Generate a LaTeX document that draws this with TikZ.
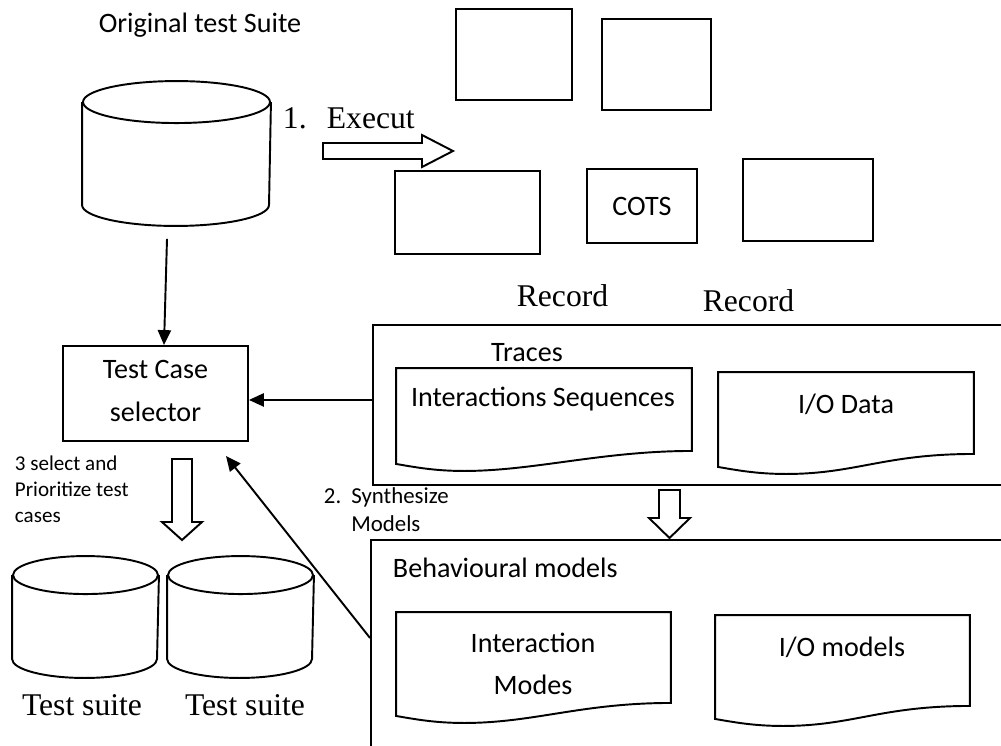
\documentclass[tikz,border=0pt]{standalone}
\usepackage{fontspec}
\setmainfont{Liberation Serif}
\newfontfamily\calibri{Carlito}
\usetikzlibrary{arrows.meta,calc}

% cylinder drawn round an empty node: name, x radius, y radius
\newcommand{\drawcan}[3]{%
  \draw ([yshift=-#3]#1.north west) -- ([yshift=#3]#1.south west)
    arc[start angle=180,end angle=360,x radius=#2,y radius=#3]
    -- ([yshift=-#3]#1.north east);
  \draw ([yshift=-#3]#1.north) ellipse [x radius=#2,y radius=#3];}
% document shape with wavy bottom round an empty node
\newcommand{\docwave}[1]{%
  \draw (#1.north west) -- (#1.north east) -- (#1.south east)
    .. controls +(-90,0) and +(70,0) .. ($(#1.south west)+(68,20)$)
    .. controls +(-30,0) and +(18,3) .. ($(#1.south west)+(0,13)$) -- cycle;}

\begin{document}
\begin{tikzpicture}[x=0.02cm,y=-0.02cm,line width=1.1pt,
  >={Triangle[length=8.5pt,width=7.5pt]},
  box/.style={draw,inner sep=0},
  txt/.style={font=\calibri\fontsize{16}{24}\selectfont,align=center,inner sep=0},
  rm/.style={font=\fontsize{18}{21}\selectfont,inner sep=0},
  can/.style={inner sep=0},
  doc/.style={inner sep=0},
  frame/.style={draw,anchor=north west,inner sep=0}]
\useasboundingbox (0,0) rectangle (1001,745);
\clip (0,0) rectangle (1001,745);

% original suite and execution
\node[txt] (suitelbl) at (200,25) {Original test Suite};
\node[can,minimum width=37.4mm,minimum height=28.6mm] (suite) at (176.5,153.5) {};
\drawcan{suite}{18.7mm}{4.2mm}
\node[rm,anchor=base west] (exec) at (282,128) {1.\hspace{11.5pt}Execut};
\coordinate (ex) at (323,151);
\draw (ex) ++(0,-8) -- ++(99,0) -- ++(0,-8) -- ++(31,16) -- ++(-31,16) -- ++(0,-8) -- ++(-99,0) -- cycle;

% system under test
\node[box,minimum width=23.2mm,minimum height=18.2mm] (boxa) at (514,54.5) {};
\node[box,minimum width=21.8mm,minimum height=18.2mm] (boxb) at (656.5,64.5) {};
\node[box,minimum width=29mm,minimum height=16.6mm] (boxc) at (467.5,212.5) {};
\node[box,txt,minimum width=22mm,minimum height=14.8mm] (cots) at (642,206) {COTS};
\node[box,minimum width=26mm,minimum height=16.4mm] (boxe) at (808,200) {};
\node[rm,anchor=base] (rec1) at (562.5,306) {Record};
\node[rm,anchor=base] (rec2) at (748.5,311) {Record};

% traces
\node[frame,minimum width=130mm,minimum height=32mm] (traces) at (372,324) {};
\node[txt] (trlbl) at (527,353) {Traces};
\node[doc,minimum width=58.8mm,minimum height=16.2mm] (iseq) at (544,409.5) {};
\docwave{iseq}
\node[txt] (iseqlbl) at (543,399) {Interactions Sequences};
\node[doc,minimum width=50.8mm,minimum height=16mm] (iodata) at (846,413) {};
\docwave{iodata}
\node[txt] (iodatalbl) at (846,404) {I/O Data};

% selector and new suites
\node[box,txt,minimum width=37mm,minimum height=19mm,text depth=3pt] (sel) at (155.5,393.5) {Test Case\\selector};
\node[font=\calibri\fontsize{12}{14.7}\selectfont,align=left,inner sep=0,anchor=north west] (prio) at (14,455) {3 select and\\Prioritize test\\cases};
\coordinate (selout) at (182,459);
\draw (selout) ++(-10,0) -- ++(0,63) -- ++(-10,0) -- ++(20,18) -- ++(20,-18) -- ++(-10,0) -- ++(0,-63) -- cycle;
\node[can,minimum width=29mm,minimum height=24mm] (out1) at (85.5,617) {};
\drawcan{out1}{14.5mm}{3.8mm}
\node[can,minimum width=29mm,minimum height=24mm] (out2) at (240.5,617) {};
\drawcan{out2}{14.5mm}{3.8mm}
\node[rm,anchor=base] (out1lbl) at (82,715) {Test suite};
\node[rm,anchor=base] (out2lbl) at (245,715) {Test suite};

% behavioural models
\node[font=\calibri\fontsize{13}{15.9}\selectfont,align=left,inner sep=0,anchor=north west] (synth) at (323,487) {2.\hspace{5.7pt}Synthesize\\\phantom{2.}\hspace{5.7pt}Models};
\coordinate (synout) at (669.5,490);
\draw (synout) ++(-10.5,0) -- ++(0,28) -- ++(-10,0) -- ++(20.5,20) -- ++(20.5,-20) -- ++(-10,0) -- ++(0,-28) -- cycle;
\node[frame,minimum width=130mm,minimum height=44.2mm] (behav) at (370,539) {};
\node[txt,anchor=west] (behlbl) at (392,568) {Behavioural models};
\node[doc,minimum width=54.6mm,minimum height=17.8mm] (imodes) at (533.5,657.5) {};
\docwave{imodes}
\node[txt] (imlbl) at (533,664) {Interaction\\Modes};
\node[doc,minimum width=50.6mm,minimum height=17.8mm] (iomod) at (842.5,660.5) {};
\docwave{iomod}
\node[txt] (iomlbl) at (842,647) {I/O models};

% connectors
\coordinate (trin) at ([yshift=1mm]traces.west);
\draw[->] ([shift={(-1.9mm,-2.6mm)}]suite.south) -- ([xshift=1.7mm]sel.north);
\draw[->] (trin) -- (trin -| sel.east);
\draw[->] ([yshift=2.5mm]behav.west) -- ([shift={(14.1mm,-2.8mm)}]sel.south);
\end{tikzpicture}
\end{document}
